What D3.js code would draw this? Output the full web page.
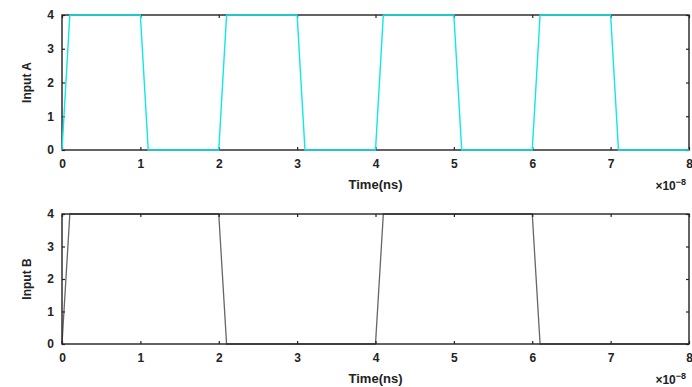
<!DOCTYPE html>
<html><head><meta charset="utf-8">
<script src="https://cdn.jsdelivr.net/npm/d3@7"></script>
<style>body{margin:0;background:#fff}svg{display:block}text{font-family:"Liberation Sans",Arial,sans-serif;font-weight:bold;fill:#222}</style>
</head><body><svg id="c" width="692" height="387"></svg>
<script>
// time in units of 1e-8 s
const timeA = [0,0.1,1,1.1,2,2.1,3,3.1,4,4.1,5,5.1,6,6.1,7,7.1,8];
const inputA = [0,4,4,0,0,4,4,0,0,4,4,0,0,4,4,0,0];
const timeB = [0,0.1,2,2.1,4,4.1,6,6.1,8];
const inputB = [0,4,4,0,0,4,4,0,0];
const xTicks = [0,1,2,3,4,5,6,7,8];
const yTicks = [0,1,2,3,4];

const svg = d3.select("#c");
const panels = [
  {t:timeA, v:inputA, top:15, bottom:150, label:"Input A", color:"#10e6ee", w:1.4, onTop:true},
  {t:timeB, v:inputB, top:214, bottom:344, label:"Input B", color:"#666", w:1.3, onTop:false}
];
const left = 62, right = 689;
const x = d3.scaleLinear().domain([0,8]).range([left,right]);
panels.forEach(p=>{
  const y = d3.scaleLinear().domain([0,4]).range([p.bottom,p.top]);
  const g = svg.append("g");
  const line = d3.line().x((d,i)=>x(p.t[i])).y(d=>y(d));
  const drawLine = ()=>g.append("path").datum(p.v).attr("d",line).attr("fill","none").attr("stroke",p.color).attr("stroke-width",p.w);
  if(!p.onTop) drawLine();
  g.append("rect").attr("x",left).attr("y",p.top).attr("width",right-left).attr("height",p.bottom-p.top)
    .attr("fill","none").attr("stroke","#222").attr("stroke-width",1.4);
  const ax = g.append("g").attr("transform",`translate(0,${p.bottom})`)
    .call(d3.axisBottom(x).tickValues(xTicks).tickFormat(d3.format("d")).tickSizeInner(-3).tickSizeOuter(0).tickPadding(9));
  const axT = g.append("g").attr("transform",`translate(0,${p.top})`)
    .call(d3.axisTop(x).tickValues(xTicks).tickFormat("").tickSizeInner(-3).tickSizeOuter(0));
  const ay = g.append("g").attr("transform",`translate(${left},0)`)
    .call(d3.axisLeft(y).tickValues(yTicks).tickFormat(d3.format("d")).tickSizeInner(-3).tickSizeOuter(0).tickPadding(8));
  const ayR = g.append("g").attr("transform",`translate(${right},0)`)
    .call(d3.axisRight(y).tickValues(yTicks).tickFormat("").tickSizeInner(-3).tickSizeOuter(0));
  [ax,axT,ay,ayR].forEach(a=>{a.select(".domain").remove();a.selectAll("line").attr("stroke","#222").attr("stroke-width",1.2);
    a.selectAll("text").style("font-size","12px").style("font-weight","bold").attr("fill","#222");});
  if(p.onTop) drawLine();
  g.append("text").attr("x",(left+right)/2).attr("y",p.bottom+39).attr("text-anchor","middle").style("font-size","13px").text("Time(ns)");
  g.append("text").attr("transform",`translate(31,${(p.top+p.bottom)/2}) rotate(-90)`).attr("text-anchor","middle").style("font-size","12px").text(p.label);
  const e = g.append("text").attr("x",686).attr("y",p.bottom+40).attr("text-anchor","end").style("font-size","12px");
  e.append("tspan").text("×10");
  e.append("tspan").attr("dy",-5).style("font-size","9px").text("−8");
});
</script></body></html>
